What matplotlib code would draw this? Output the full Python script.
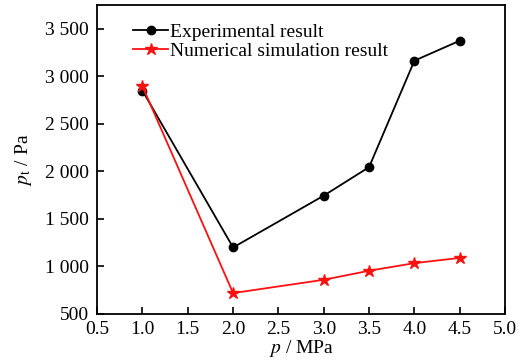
import matplotlib
matplotlib.use('Agg')
import matplotlib.pyplot as plt
from matplotlib.ticker import MultipleLocator, FuncFormatter

# data
p = [1.0, 2.0, 3.0, 3.5, 4.0, 4.5]
exp_result = [2850, 1200, 1745, 2045, 3165, 3375]
num_result = [2895, 720, 860, 955, 1035, 1090]

plt.rcParams['font.family'] = ['Liberation Serif', 'DejaVu Serif']
plt.rcParams['mathtext.fontset'] = 'stix'
plt.rcParams['font.size'] = 14

fig = plt.figure(figsize=(5.25, 3.63), dpi=100)
ax = fig.add_axes([0.185, 0.135, 0.777, 0.851])

ax.plot(p, exp_result, color='black', lw=1.3, marker='o', ms=6,
        label='Experimental result')
ax.plot(p, num_result, color='#ff1010', lw=1.3, marker='*', ms=9,
        label='Numerical simulation result')

ax.set_xlim(0.5, 5.0)
ax.set_ylim(500, 3750)
ax.xaxis.set_major_locator(MultipleLocator(0.5))
ax.yaxis.set_major_locator(MultipleLocator(500))
ax.xaxis.set_major_formatter(FuncFormatter(lambda v, pos: f'{v:.1f}'))
ax.yaxis.set_major_formatter(
    FuncFormatter(lambda v, pos: f'{int(v):,}'.replace(',', ' ')))
ax.tick_params(direction='in', length=5, width=1.2, pad=6)
ax.tick_params(axis='x', pad=5)
for s in ax.spines.values():
    s.set_linewidth(1.3)

ax.set_xlabel(r'$p$ / MPa', labelpad=0)
ax.set_ylabel(r'$p_\mathrm{t}$ / Pa', labelpad=8)

ax.legend(loc='upper left', frameon=False, handlelength=1.8,
          handletextpad=0.1, labelspacing=0.1, borderaxespad=0.2,
          bbox_to_anchor=(0.06, 0.98))

fig.savefig('out.png', dpi=100)
